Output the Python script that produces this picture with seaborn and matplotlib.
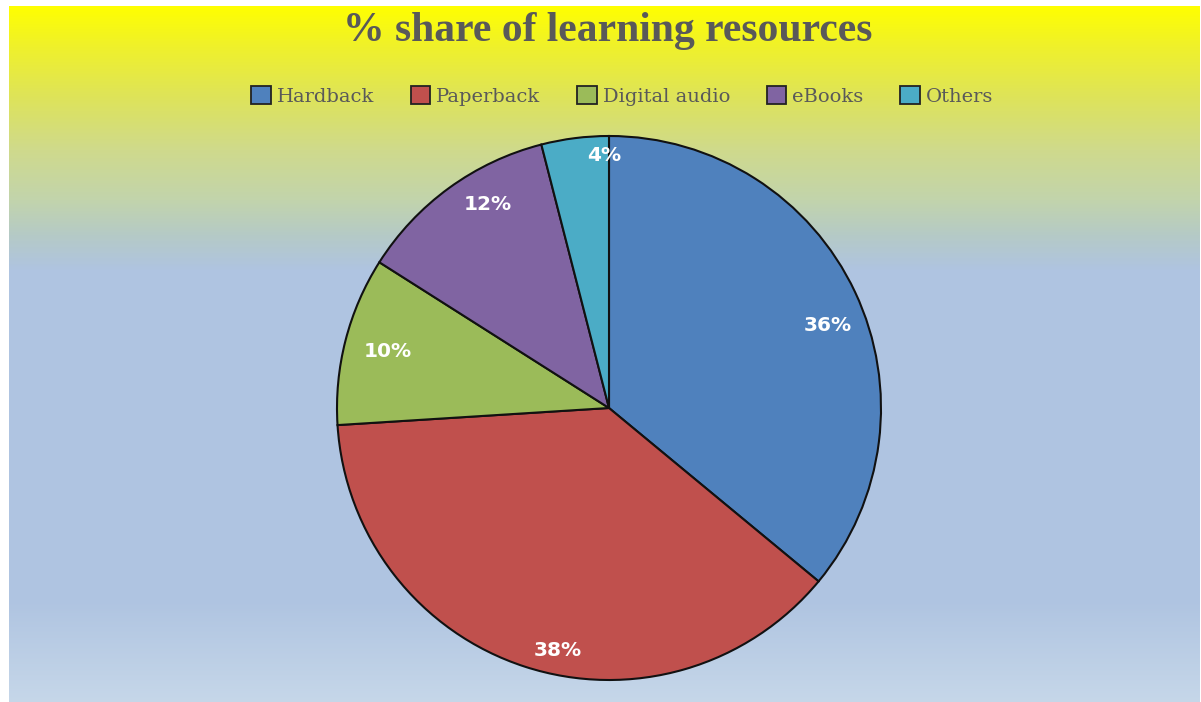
import numpy as np
import matplotlib
matplotlib.use("Agg")
import matplotlib.pyplot as plt
import seaborn as sns
from matplotlib.patches import Patch
from matplotlib.colors import to_rgb

categories = ["Hardback", "Paperback", "Digital audio", "eBooks", "Others"]
shares = [36, 38, 10, 12, 4]
colors = ["#4F81BD", "#C0504D", "#9BBB59", "#8064A2", "#4BACC6"]
title = "% share of learning resources"

# label placement style (radius fraction, angular nudge in degrees)
label_r = [0.86, 0.91, 0.84, 0.87, 0.93]
label_dang = [-4.6, 6.1, 0.2, -5.2, -6.2]

# background gradient stops (pixel row from top, colour)
grad_px = [6, 50, 100, 150, 200, 235, 270, 600, 702]
grad_col = ["#FFFF00", "#EEF02E", "#DDE35C", "#CFDA8C", "#C2D4AC", "#B5CAC6",
            "#AFC4E1", "#AFC4E1", "#C6D7E9"]

sns.set_theme(style="white")
plt.rcParams["font.family"] = ["DejaVu Sans"]

W, H = 1201, 702
fig = plt.figure(figsize=(W / 100, H / 100), dpi=100)
fig.patch.set_facecolor("white")

# gradient background
top = 6
bg = fig.add_axes([9 / W, 0, (W - 10) / W, (H - top) / H])
rows = np.arange(top, H) + 0.5
rgb = np.array([to_rgb(c) for c in grad_col])
grad = np.stack([np.interp(rows, grad_px, rgb[:, k]) for k in range(3)], axis=1)
img = np.repeat(grad[:, None, :], 4, axis=1)
bg.imshow(img, aspect="auto", extent=[0, 1, 0, 1], interpolation="nearest")
bg.set_axis_off()

# pie axes
cx, cy, r = 609, 408, 272
side = r * 2 * 1.25
ax = fig.add_axes([(cx - side / 2) / W, (H - cy - side / 2) / H, side / W, side / H])
wedges, texts, autotexts = ax.pie(
    shares, colors=colors, startangle=90, counterclock=False,
    autopct="%1.0f%%", pctdistance=0.87,
    wedgeprops=dict(edgecolor="#111111", linewidth=1.5),
    textprops=dict(color="white", fontsize=14.5, fontweight="bold"),
)
for w, at, rr, da in zip(wedges, autotexts, label_r, label_dang):
    mid = np.deg2rad((w.theta1 + w.theta2) / 2 + da)
    at.set_position((rr * np.cos(mid), rr * np.sin(mid)))
ax.set_aspect("equal")
ax.set_facecolor("none")

fig.text(0.506, 1 - 31 / H, title, ha="center", va="center",
         fontsize=30, fontweight="bold", color="#595959", family="Liberation Serif")

handles = [Patch(facecolor=c, edgecolor="#222222", linewidth=1.3) for c in colors]
fig.legend(handles, categories, loc="center", bbox_to_anchor=(0.518, 1 - 96 / H),
           ncol=5, frameon=False, handlelength=1.0, handleheight=1.0,
           handletextpad=0.3, columnspacing=1.9,
           prop=dict(family="DejaVu Serif", size=14), labelcolor="#595959")

fig.savefig("out.png", dpi=100)
